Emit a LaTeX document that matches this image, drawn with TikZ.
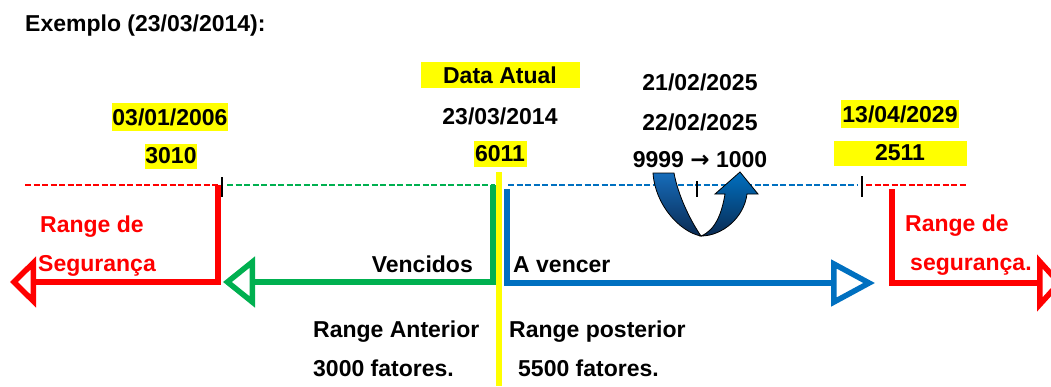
\documentclass[tikz,border=0pt]{standalone}
\usepackage{fontspec}
\setmainfont{Liberation Sans}
\newfontfamily\arrowfont{DejaVu Sans}
\usetikzlibrary{arrows.meta, calc}

\definecolor{segred}{RGB}{255,0,0}
\definecolor{vencgreen}{RGB}{0,176,80}
\definecolor{avencblue}{RGB}{0,112,192}
\definecolor{hilite}{RGB}{255,255,0}
\definecolor{turntop}{RGB}{22,108,186}
\definecolor{turnbot}{RGB}{10,42,82}

\tikzset{
  txt/.style={font=\fontsize{23}{27}\selectfont\bfseries, inner sep=0pt},
  hl/.style={txt, fill=hilite, minimum height=26pt},
  dashline/.style={line width=2.6pt, dash pattern=on 6pt off 2.5pt},
  rangearrow/.style={line width=5.5pt, line join=miter},
  tickmark/.style={line width=1.6pt},
}

\begin{document}
\begin{tikzpicture}[x=1pt, y=-1pt]
    \useasboundingbox (0,0) rectangle (1051,386);

    % Title
    \node[txt, anchor=west] (title) at (25,26) {Exemplo (23/03/2014):};

    % Points on the time line
    \coordinate (startL) at (25,185);
    \coordinate (oldEnd) at (218,185);
    \coordinate (oldTick) at (222,185);
    \coordinate (nowL) at (493,185);
    \coordinate (nowR) at (507,189);
    \coordinate (midTick) at (697,185);
    \coordinate (newTick) at (862,185);
    \coordinate (newEnd) at (892,189);
    \coordinate (endR) at (967,185);

    % Dashed time line
    \draw[dashline, segred] (startL) -- (oldEnd);
    \draw[dashline, vencgreen] ($(oldTick)+(5,0)$) -- ($(nowL)+(2,0)$);
    \draw[dashline, avencblue] ($(nowR)+(1,-4)$) -- ($(newTick)+(-4,0)$);
    \draw[dashline, segred] ($(newTick)+(4,0)$) -- (endR);

    % Tick marks
    \draw[tickmark] ($(oldTick)+(0,-8)$) -- ($(oldTick)+(0,12)$);
    \draw[tickmark] ($(midTick)+(0,-4)$) -- ($(midTick)+(0,12)$);
    \draw[tickmark] ($(newTick)+(0,-9)$) -- ($(newTick)+(0,12)$);

    % Range arrows
    \coordinate (tipA) at (10,282);
    \coordinate (tipB) at (223,282);
    \coordinate (tipC) at (875,283);
    \coordinate (tipD) at (1063,283);
    \draw[rangearrow, segred, -{Triangle[open, length=26pt, width=50pt]}] (oldEnd) |- (tipA);
    \draw[rangearrow, vencgreen, -{Triangle[open, length=32pt, width=50pt]}] (nowL) |- (tipB);
    \draw[rangearrow, avencblue, -{Triangle[open, length=44pt, width=46pt]}] (nowR) |- (tipC);
    \draw[rangearrow, segred, -{Triangle[open, length=26pt, width=56pt]}] (newEnd) |- (tipD);

    % Turn over 9999 -> 1000
    \shade[top color=turntop, bottom color=turnbot, draw=black, line width=0.8pt]
      (653,173) .. controls (655,205) and (680,232) .. (701,236)
      .. controls (690,220) and (678,195) .. (674,173) -- cycle;
    \shade[top color=avencblue, bottom color=turnbot, draw=black, line width=0.8pt]
      (701,236) .. controls (716,230) and (722,212) .. (725,194)
      -- (715,194) -- (740,172) -- (758,194) -- (747,194)
      .. controls (744,218) and (722,236) .. (701,236) -- cycle;

    % Current date marker
    \coordinate (nowTop) at (499,172);
    \coordinate (nowBot) at (499,386);
    \draw[hilite, line width=6pt] (nowTop) -- (nowBot);

    % Labels above the line
    \node[hl, minimum width=116pt, minimum height=28pt] (oldDate) at (170,117) {03/01/2006};
    \node[hl, minimum width=52pt, minimum height=25pt] (oldCode) at (171,156) {3010};
    \node[hl, minimum width=159pt] (nowHead) at (500,75) {Data Atual};
    \node[txt] (nowDate) at (500,116) {23/03/2014};
    \node[hl, minimum width=53pt] (nowCode) at (500,154) {6011};
    \node[txt] (turnA) at (700,82) {21/02/2025};
    \node[txt] (turnB) at (700,122) {22/02/2025};
    \node[txt] (turnC) at (700,160) {9999 {\arrowfont\bfseries →} 1000};
    \node[hl, minimum width=118pt, minimum height=28pt] (newDate) at (900,114) {13/04/2029};
    \node[hl, minimum width=133pt, minimum height=25pt] (newCode) at (900,153) {2511};

    % Labels below the line
    \node[txt, segred, anchor=west] (segA1) at (40,227) {Range de};
    \node[txt, segred, anchor=west] (segA2) at (38,266) {Segurança};
    \node[txt, anchor=east] (venc) at (473,264) {Vencidos};
    \node[txt, anchor=west] (avenc) at (513,265) {A vencer};
    \node[txt, segred, anchor=west] (segB1) at (905,226) {Range de};
    \node[txt, segred, anchor=west] (segB2) at (910,267) {segurança.};
    \node[txt, anchor=west] (antA) at (313,332) {Range Anterior};
    \node[txt, anchor=west] (antB) at (313,368) {3000 fatores.};
    \node[txt, anchor=west] (posA) at (509,332) {Range posterior};
    \node[txt, anchor=west] (posB) at (518,368) {5500 fatores.};
\end{tikzpicture}
\end{document}
